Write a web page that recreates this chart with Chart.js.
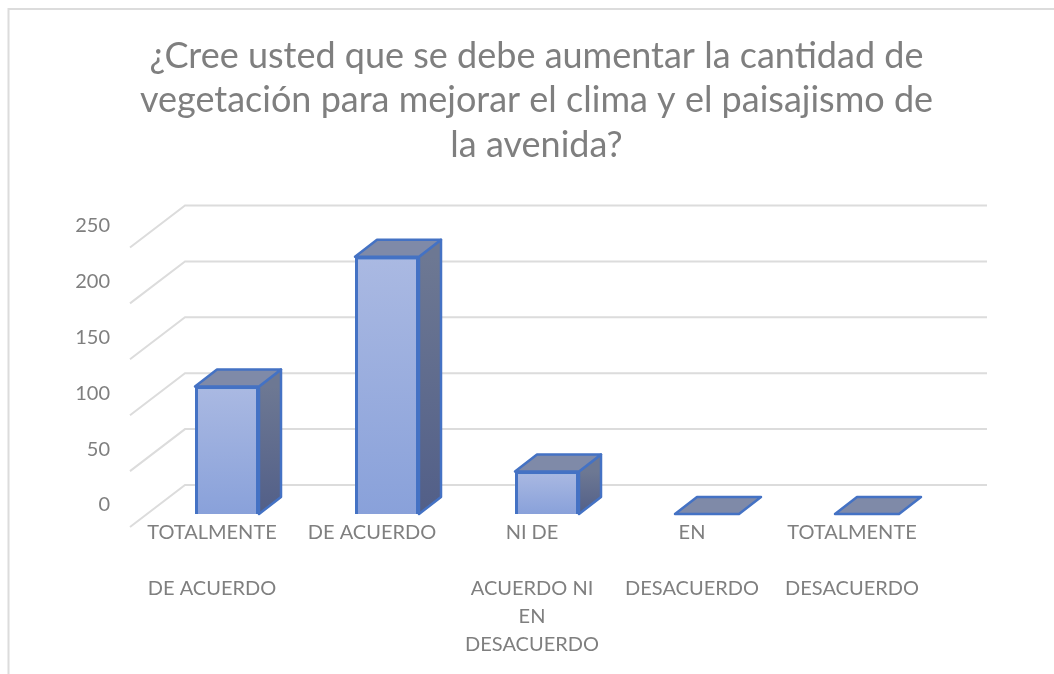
<!DOCTYPE html>
<html>
<head>
<meta charset="utf-8">
<script src="https://cdn.jsdelivr.net/npm/chart.js@4/dist/chart.umd.min.js"></script>
<style>
  html, body { margin: 0; padding: 0; background: #fff; overflow: hidden; }
  canvas { display: block; }
</style>
</head>
<body>
<canvas id="grafico" width="1054" height="674"></canvas>
<script>
var titulo = [
    "¿Cree usted que se debe aumentar la cantidad de",
    "vegetación para mejorar el clima y el paisajismo de",
    "la avenida?"
];
var categorias = [
    ["TOTALMENTE", "", "DE ACUERDO"],
    ["DE ACUERDO"],
    ["NI DE", "", "ACUERDO NI", "EN", "DESACUERDO"],
    ["EN", "", "DESACUERDO"],
    ["TOTALMENTE", "", "DESACUERDO"]
];
var valores = [114, 230, 38, 0, 0];
var GRIS = '#7f7f7f';
var BORDE = '#4472c4';

// the bars sit in the middle of the floor: depth goes back (+dx, -dy)
var fondoBarra = { x: 22, y: -17 };
var muroAtras = { x: 38, y: -29 };
var sueloFrente = { x: -17, y: 13 };

function degradado(ctx, y0, y1, c0, c1) {
    var g = ctx.createLinearGradient(0, y0, 0, y1);
    g.addColorStop(0, c0);
    g.addColorStop(1, c1);
    return g;
}

function cara(ctx, puntos, relleno) {
    ctx.beginPath();
    ctx.moveTo(puntos[0][0], puntos[0][1]);
    for (var i = 1; i < puntos.length; i++) {
        ctx.lineTo(puntos[i][0], puntos[i][1]);
    }
    ctx.closePath();
    ctx.fillStyle = relleno;
    ctx.fill();
    ctx.strokeStyle = BORDE;
    ctx.lineWidth = 2.5;
    ctx.lineJoin = 'round';
    ctx.stroke();
}

// back wall lines and floor diagonals, taken from the y scale ticks
var rejilla3d = {
    id: 'rejilla3d',
    beforeDatasetsDraw: function (chart) {
        var ctx = chart.ctx;
        var y = chart.scales.y;
        var area = chart.chartArea;
        ctx.save();
        ctx.strokeStyle = '#dcdcdc';
        ctx.lineWidth = 2;
        y.ticks.forEach(function (t) {
            var py = y.getPixelForValue(t.value);
            ctx.beginPath();
            ctx.moveTo(area.left + sueloFrente.x, py + sueloFrente.y);
            ctx.lineTo(area.left + muroAtras.x, py + muroAtras.y);
            ctx.lineTo(area.right + muroAtras.x + 2, py + muroAtras.y);
            ctx.stroke();
        });
        ctx.restore();
    }
};

// side and top faces of every bar, from the bar elements
var caras3d = {
    id: 'caras3d',
    afterDatasetsDraw: function (chart) {
        var ctx = chart.ctx;
        var base = chart.scales.y.getPixelForValue(0);
        ctx.save();
        chart.getDatasetMeta(0).data.forEach(function (barra) {
            var izq = barra.x - barra.width / 2;
            var der = barra.x + barra.width / 2;
            var dx = fondoBarra.x, dy = fondoBarra.y;
            if (base - barra.y > 0) {
                cara(ctx, [[der, barra.y], [der + dx, barra.y + dy], [der + dx, base + dy], [der, base]],
                    degradado(ctx, barra.y, base, '#6d7893', '#525f88'));
            }
            cara(ctx, [[izq, barra.y], [izq + dx, barra.y + dy], [der + dx, barra.y + dy], [der, barra.y]], '#7f8aa8');
        });
        ctx.restore();
    }
};

// outer frame of the pasted chart, open on the right and at the bottom
var marco = {
    id: 'marco',
    beforeDraw: function (chart) {
        var ctx = chart.ctx;
        ctx.save();
        ctx.strokeStyle = '#dcdcdc';
        ctx.lineWidth = 2;
        ctx.beginPath();
        ctx.moveTo(8.5, 674);
        ctx.lineTo(8.5, 9);
        ctx.lineTo(1054, 9);
        ctx.stroke();
        ctx.restore();
    }
};

// the title is centred a bit right of the page, not over the plot
var tituloCentrado = {
    id: 'tituloCentrado',
    afterLayout: function (chart) {
        chart.titleBlock.left += 63;
        chart.titleBlock.right += 63;
    }
};

new Chart(document.getElementById("grafico").getContext("2d"), {
    type: 'bar',
    data: {
        labels: categorias,
        datasets: [{
            data: valores,
            backgroundColor: function (c) {
                if (!c.chart.chartArea || c.raw === undefined) return '#99ace0';
                var y = c.chart.scales.y;
                return degradado(c.chart.ctx, y.getPixelForValue(c.raw), y.getPixelForValue(0), '#aab9e2', '#89a1da');
            },
            borderColor: BORDE,
            borderWidth: 3,
            barPercentage: 0.4,
            categoryPercentage: 1
        }]
    },
    options: {
        responsive: false,
        animation: false,
        layout: { padding: { left: 0, right: 107, top: 0, bottom: 0 } },
        plugins: {
            legend: { display: false },
            tooltip: { enabled: false },
            title: {
                display: true,
                text: titulo,
                color: GRIS,
                font: { family: 'Lato', size: 36, weight: 'normal', lineHeight: 44.5 / 36 },
                padding: { top: 34, bottom: 67 }
            }
        },
        scales: {
            x: {
                grid: { display: false, drawTicks: false },
                border: { display: false },
                ticks: {
                    color: GRIS,
                    font: { family: 'Lato', size: 20, lineHeight: 28 / 20 },
                    autoSkip: false,
                    maxRotation: 0,
                    minRotation: 0,
                    padding: 5,
                    labelOffset: -15
                },
                afterFit: function (s) { s.height = 160; }
            },
            y: {
                min: 0,
                max: 250,
                grid: { display: false, drawTicks: false },
                border: { display: false },
                ticks: {
                    stepSize: 50,
                    color: GRIS,
                    font: { family: 'Lato', size: 20 },
                    padding: 37,
                    labelOffset: -9
                },
                afterFit: function (s) { s.width = 147; }
            }
        }
    },
    plugins: [marco, tituloCentrado, rejilla3d, caras3d]
});
</script>
</body>
</html>
